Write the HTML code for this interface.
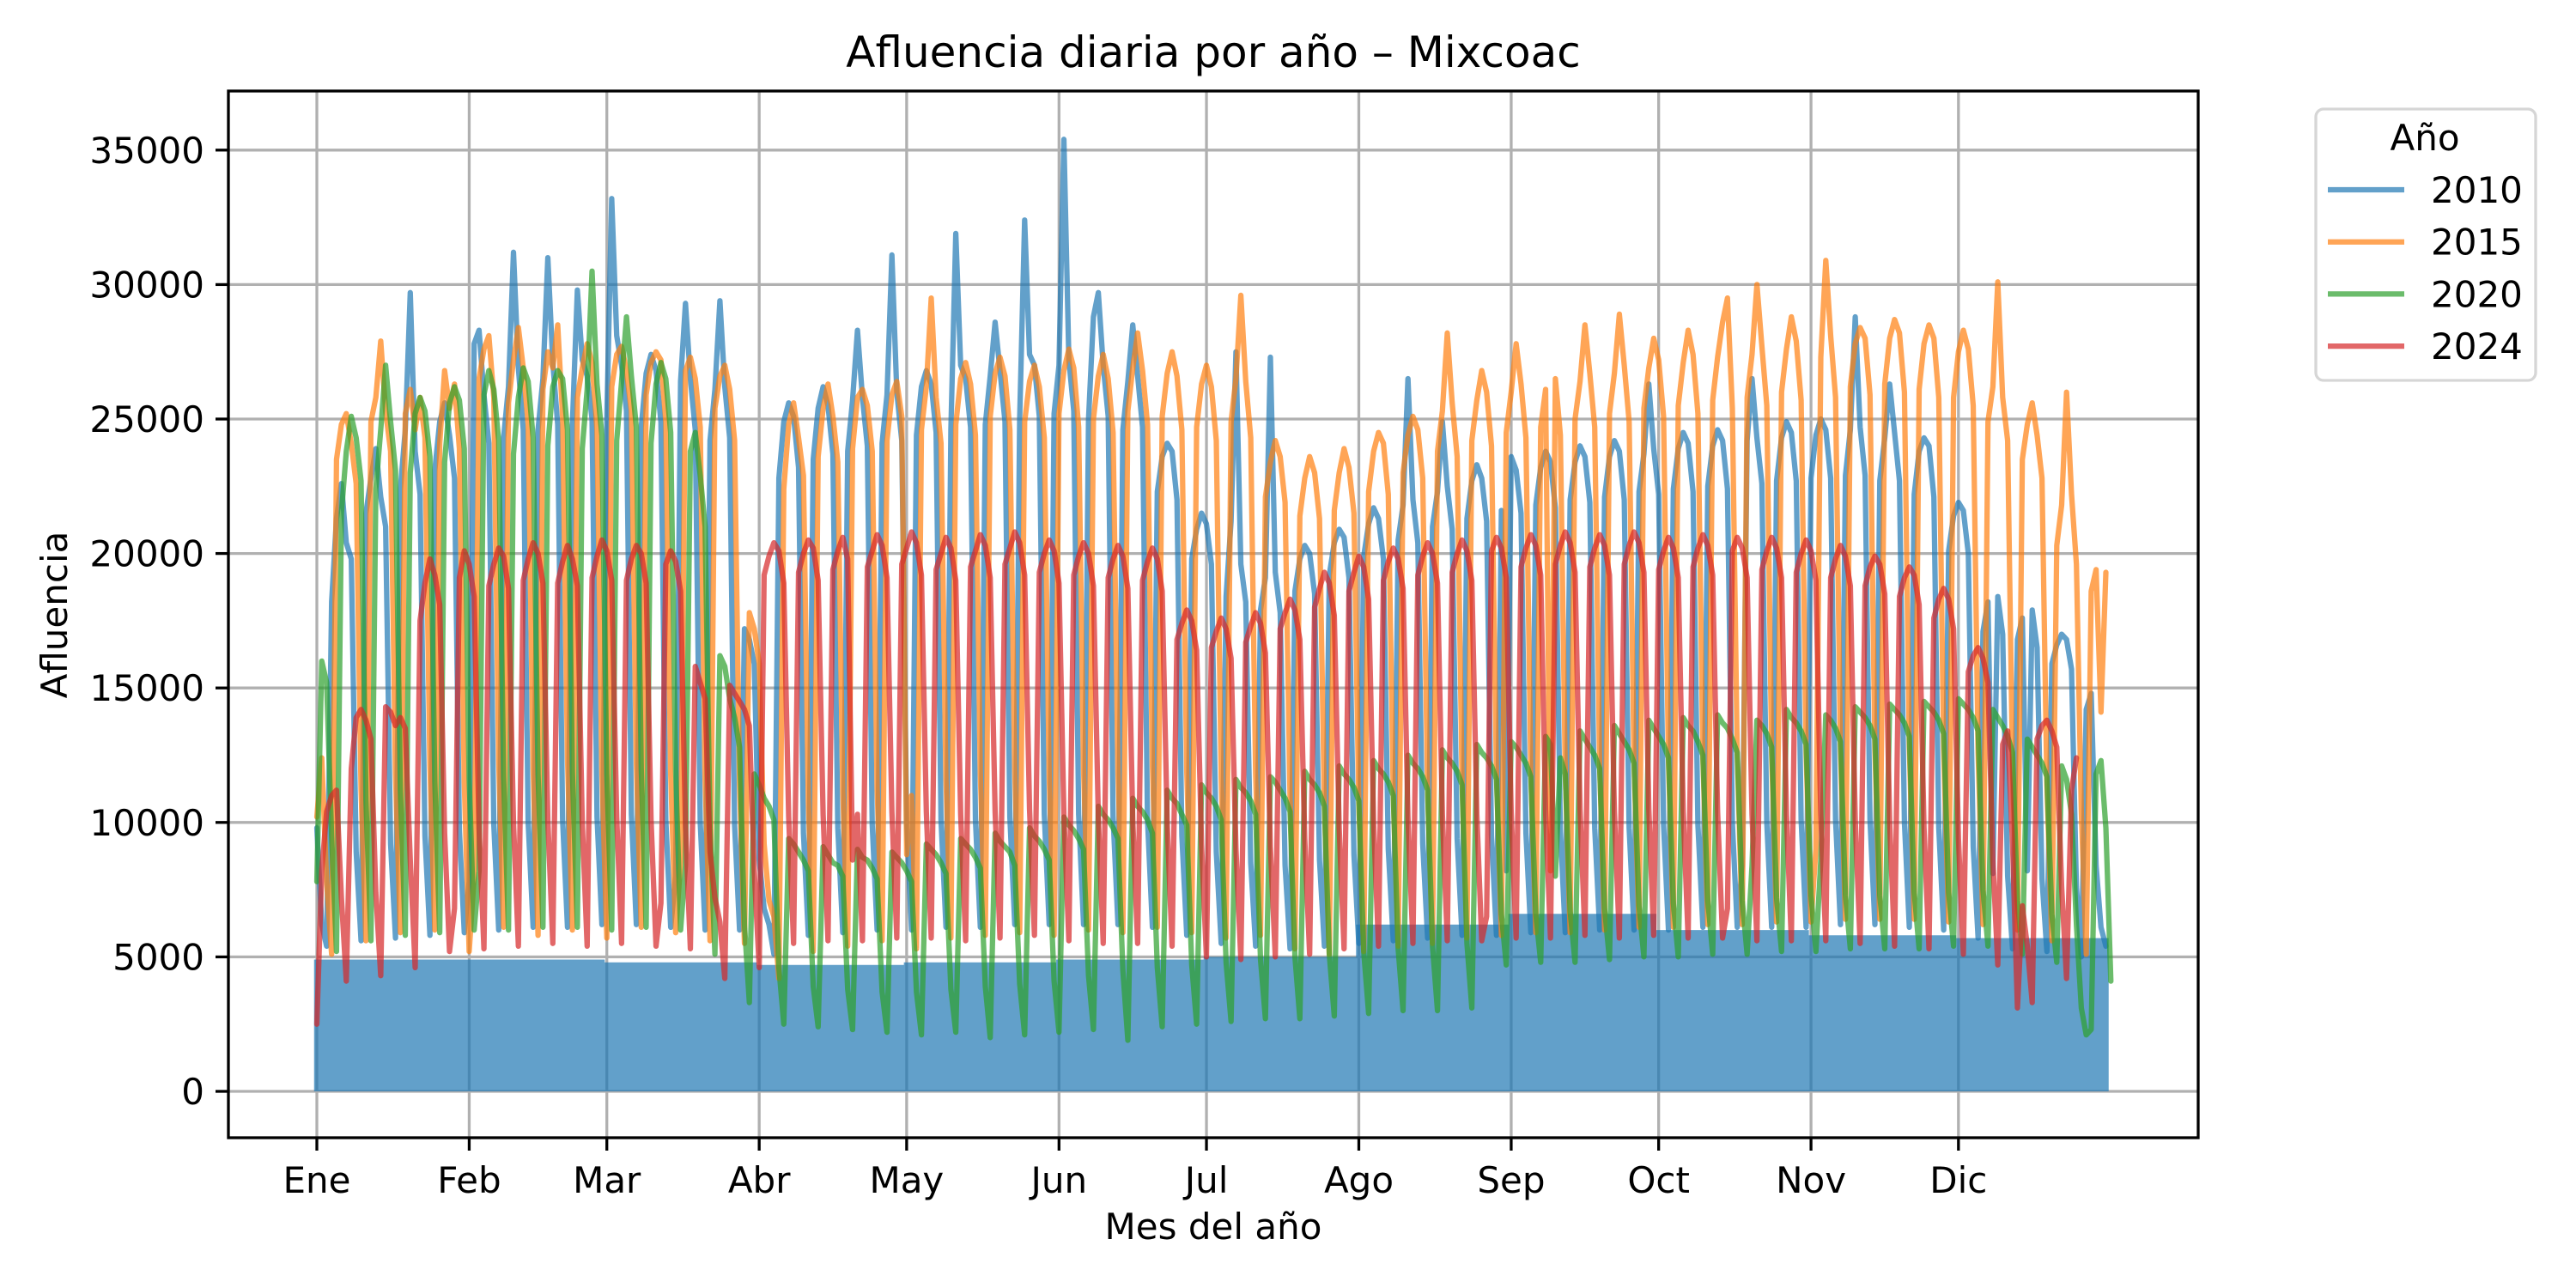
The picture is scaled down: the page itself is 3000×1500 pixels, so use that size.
<!DOCTYPE html>
<html><head><meta charset="utf-8"><style>
html,body{margin:0;padding:0;background:#fff;}
svg{display:block;font-family:"DejaVu Sans","Liberation Sans",sans-serif;}
</style></head><body>
<svg id="chart" width="3000" height="1500" viewBox="0 0 3000 1500" xmlns="http://www.w3.org/2000/svg">
<defs><clipPath id="clip"><rect x="266" y="106" width="2294" height="1219"/></clipPath></defs>
<rect width="3000" height="1500" fill="#fff"/>
<g id="grid"></g>
<g id="series" clip-path="url(#clip)"></g>
<rect x="266" y="106" width="2294" height="1219" fill="none" stroke="#000" stroke-width="3.3"/>
<g id="axes"></g>
<text x="1413" y="78" font-size="50" text-anchor="middle">Afluencia diaria por año – Mixcoac</text>
<text x="1413" y="1443" font-size="42" text-anchor="middle">Mes del año</text>
<text x="0" y="0" font-size="42" text-anchor="middle" transform="translate(78,716) rotate(-90)">Afluencia</text>
<g id="legend">
<rect x="2697" y="127" width="256" height="316" rx="9" fill="#fff" fill-opacity="0.8" stroke="#d6d6d6" stroke-width="3.3"/>
<text x="2824" y="175" font-size="42" text-anchor="middle">Año</text>
</g>
</svg>
<script>
const months = ["Ene","Feb","Mar","Abr","May","Jun","Jul","Ago","Sep","Oct","Nov","Dic"];
const monthStartDays = [1,32,60,91,121,152,182,213,244,274,305,335];
const yTicks = [0,5000,10000,15000,20000,25000,30000,35000];
const years = ["2010","2015","2020","2024"];
const colors = ["#1f77b4","#ff7f0e","#2ca02c","#d62728"];
const base2010ByMonth = [4900,4900,4800,4700,4800,4900,5000,6200,6600,6000,5800,5700];
const v2010 = [9800,6200,5400,
18200,21300,22600,20400,19800,8900,5600,
21500,22800,23900,22100,21000,9200,5700,
22400,24600,29700,23800,22200,9500,5800,
23100,24900,25600,24400,22800,9700,5900,
7800,27800,28300,25900,24100,9900,6000,
24300,26200,31200,26900,24600,10000,6100,
24600,26500,31000,27100,24800,10100,6100,
24800,29800,27200,26600,25000,10200,6200,
25000,33200,28100,27000,25300,10300,6200,
24700,26700,27400,26800,24900,10100,6100,
8000,26400,29300,26500,24600,10000,6000,
24200,26100,29400,26200,24300,9900,6000,
17200,16800,15900,8600,6800,6200,5100,
22800,24900,25600,25100,23200,9600,5800,
23500,25400,26200,25500,23700,9800,5900,
23800,25700,28300,25800,24000,9900,6000,
24100,25900,31100,26000,24200,10000,6000,
24400,26200,26800,26300,24500,10100,6100,
24600,31900,27000,26500,24700,10100,6100,
24800,26600,28600,26800,24900,10200,6200,
25000,32400,27400,27000,25100,10300,6200,
25200,27000,35400,27200,25300,10300,6200,
25000,28800,29700,27000,25100,10200,6200,
24600,26400,28500,26600,24700,10100,6100,
22300,23600,24100,23800,22000,9500,5800,
19800,20900,21500,21100,19600,8900,5500,
18400,21200,27500,19600,18200,8500,5400,
17900,19100,27300,19300,17800,8400,5300,
18600,19800,20300,20000,18500,8600,5400,
19200,20400,20900,20600,19100,8800,5500,
19900,21100,21700,21300,19800,9000,5600,
20500,21800,26500,22000,20400,9200,5700,
21000,22300,24900,22500,20900,9400,5800,
21300,22700,23300,22800,21200,9500,5800,
21600,8200,23600,23100,21500,9600,5900,
21800,23200,23800,23400,21700,9700,5900,
22000,23400,24000,23600,21900,9800,6000,
22100,23600,24200,23800,22000,9800,6000,
22300,23700,26300,23900,22200,9900,6000,
22400,23900,24500,24100,22300,9900,6100,
22500,24000,24600,24200,22400,10000,6100,
8400,24200,26500,24300,22600,10000,6100,
22700,24300,24900,24500,22700,10100,6100,
22800,24400,25000,24600,22800,10100,6200,
22900,24600,28800,24700,22900,10100,6200,
22700,24300,26300,24500,22700,10000,6100,
22200,23800,24300,24000,22100,9800,6000,
20100,21400,21900,21600,20000,9100,5700,
17100,18200,8100,18400,17000,8000,5300,
16800,17600,8200,17900,16500,7900,5200,
15900,16600,17000,16800,15700,7600,5000,
14200,14800,8400,6100,5400];
const v2015 = [10200,12400,7800,5100,
23500,24800,25200,24100,22600,11200,5600,
24900,25800,27900,25300,23800,11800,5900,
25200,26100,24600,25800,24300,12100,6000,
24100,26800,25400,26300,23900,11500,5200,
8000,26500,27600,28100,25800,12300,6100,
25600,27200,28400,26900,24800,12000,5800,
26100,27500,26900,28500,25100,12400,6000,
25800,26900,27800,27100,24600,11900,5700,
26200,27400,27700,26800,25300,12200,6100,
25900,27100,27500,27200,24900,11800,5900,
8500,26800,27300,26500,24700,11600,5600,
25400,26600,27000,26100,24200,11400,5500,
17800,17200,15900,9200,7100,6500,4200,
22400,24800,25600,24300,22900,10800,5200,
23600,25400,26300,25100,23400,11200,5400,
23900,25800,26100,25500,23800,11300,5600,
24200,25900,26400,25100,8800,11000,5300,
24600,26200,29500,25800,24100,11600,5700,
24800,26500,27100,26300,24400,11800,5800,
25100,26700,27300,26600,24600,11900,5900,
24900,26400,27000,26200,24300,11700,5800,
25200,26800,27600,26900,24700,12000,6000,
25000,26600,27400,26500,24500,11900,5900,
25300,26900,28200,26800,24800,12100,6100,
25100,26700,27500,26600,24600,11900,5900,
24700,26300,27000,26200,24200,11700,5700,
24900,26500,29600,26400,24300,11800,5800,
22100,23400,24200,23600,21900,10900,5300,
21400,22800,23600,23000,21300,10600,5100,
21600,23000,23900,23200,21500,10700,5200,
22300,23800,24500,24100,22200,11000,5400,
23000,24400,25100,24600,22800,11200,5500,
23800,25300,28200,25600,23600,11600,5700,
24200,25700,26800,26000,24000,11800,5800,
24500,26000,27800,26300,24300,11900,5900,
24700,26100,8200,26500,24400,11900,5900,
25000,26400,28500,26700,24700,12100,6000,
25200,26700,28900,27000,24900,12200,6100,
25400,26900,28000,27200,25100,12300,6100,
25500,27100,28300,27400,25200,12400,6200,
25700,27300,28600,29500,25400,12500,6200,
25800,27400,30000,27700,25500,12500,6300,
26000,27600,28800,27900,25700,12600,6300,
9000,27300,30900,28100,25800,12700,6400,
26200,27800,28400,28000,25900,12700,6400,
26300,28000,28700,28200,26000,12800,6400,
26100,27800,28500,28000,25800,12700,6300,
25800,27500,28300,27600,25500,12600,6200,
24900,26200,30100,25800,24200,12000,6000,
23500,24800,25600,24400,22800,11400,5600,
20300,21800,26000,22200,19600,10400,5100,
18600,19400,14100,19300];
const v2020 = [7800,16000,15200,9500,5200,
21500,23800,25100,24300,22700,10800,5600,
22400,24600,27000,24900,23100,11200,5800,
23000,25200,25800,25300,23600,11500,5900,
23400,25600,26200,25700,23900,11600,6000,
8200,25900,26800,26100,24200,11700,6000,
23700,25800,26900,26400,24300,11800,6100,
24000,26200,26800,26500,24600,11900,6100,
23900,26100,30500,26300,24400,11800,6000,
24200,26400,28800,26600,24700,12000,6100,
24100,26300,27100,26500,24500,11900,6000,
8400,23800,24500,22900,21000,9800,5100,
16200,15800,14600,13900,12800,6200,3300,
11800,11400,10900,10600,10100,4600,2500,
9400,9200,8900,8600,8200,3900,2400,
9100,8800,8500,8400,8000,3800,2300,
9000,8700,8600,8300,7900,3700,2200,
8900,8700,8500,8200,7800,3700,2100,
9200,9000,8800,8500,8100,3800,2200,
9400,9200,9000,8700,8300,3900,2000,
9600,9300,9100,8900,8400,4000,2100,
9800,9500,9300,9000,8600,4100,2200,
10200,9900,9700,9400,9000,4300,2300,
10600,10300,10100,9800,9400,4500,1900,
10900,10600,10400,10100,9600,4600,2400,
11200,10900,10700,10300,9900,4700,2500,
11400,11100,10900,10600,10100,4800,2600,
11600,11300,11100,10800,10300,4900,2700,
11700,11500,11200,10900,10400,5000,2700,
11900,11600,11400,11100,10600,5100,2800,
12100,11800,11600,11300,10800,5200,2900,
12300,12000,11800,11500,11000,5300,3000,
12500,12200,12000,11700,11200,5400,3000,
12700,12400,12200,11900,11400,5500,3100,
12900,12600,12400,12100,11600,6600,4700,
13000,12800,12500,12200,11700,6600,4800,
13200,12900,8000,12400,11800,6700,4800,
13400,13100,12800,12500,12000,6800,4900,
13600,13300,13000,12700,12200,6900,5000,
13800,13500,13200,12900,12400,7000,5000,
13900,13600,13400,13000,12500,7100,5100,
14000,13700,13500,13100,12600,7100,5100,
8400,13800,13600,13300,12800,7200,5200,
14200,13900,13700,13400,12900,7300,5200,
8600,14000,13800,13500,13000,7300,5300,
14300,14100,13900,13600,13100,7300,5300,
14400,14200,14000,13700,13200,7400,5300,
14500,14300,14100,13800,13300,7400,5400,
14600,14400,14200,13900,13400,7500,5400,
14200,13900,13600,13200,12600,7100,5100,
13100,12800,12500,12200,11700,6600,4800,
12100,11600,10300,6200,3100,2100,2300,
11800,12300,9800,4100];
const v2024 = [2500,8200,10400,11000,11200,7200,4100,
12000,13900,14200,13800,13100,7400,4300,
14300,14100,13600,13900,13500,8600,4600,
17500,18900,19800,19200,18100,9600,5200,
6800,19100,20100,19600,18400,9800,5300,
18800,19600,20200,19900,18700,10000,5400,
19000,19800,20400,20000,18900,10100,5500,
18900,19700,20300,19800,18800,10000,5400,
19100,19900,20500,20100,19000,10200,5500,
19000,19800,20300,20000,18900,10100,5400,
7000,19600,20100,19700,18600,9900,5300,
15800,15200,14600,8900,7200,6300,4200,
15100,14800,14500,14200,13600,8200,4600,
19200,19900,20400,20100,18900,10200,5500,
19300,20000,20500,20200,19000,10300,5600,
19400,20100,20600,19800,8600,10300,5600,
19500,20100,20700,20300,19100,10400,5700,
19600,20200,20800,20400,19200,10400,5700,
19400,20000,20600,20200,19000,10300,5600,
19500,20100,20700,20300,19100,10400,5700,
19600,20200,20800,20400,19200,10500,5800,
19300,20000,20500,20100,18900,10300,5600,
19200,19900,20400,20000,18800,10200,5500,
19100,19800,20300,19900,18700,10100,5500,
19000,19700,20200,19800,18600,10000,5400,
16800,17400,17900,17500,16400,9200,5000,
16500,17100,17600,17200,16100,9000,4900,
16700,17300,17800,17400,16300,9100,5000,
17200,17800,18300,17900,16800,9400,5100,
18000,18700,19300,18900,17700,9800,5300,
18600,19300,19900,19500,18300,10000,5400,
19000,19700,20200,19800,18700,10200,5500,
19200,19900,20400,20000,18900,10300,5600,
19300,20000,20500,20100,19000,10300,5600,
6500,20100,20600,20200,19100,10400,5700,
19500,20200,20700,20300,19200,10400,5700,
19600,20300,20800,20400,19300,10500,5800,
19500,20200,20700,20300,19200,10400,5700,
19600,20300,20800,20400,19300,10500,5800,
19400,20100,20600,20200,19100,10400,5700,
19500,20200,20700,20300,19200,10400,5700,
6800,20100,20600,20200,19100,10300,5600,
19400,20100,20600,20200,19100,10300,5600,
19300,20000,20500,20100,19000,10300,5600,
19100,19800,20300,19900,18800,10100,5500,
18800,19500,19900,19600,18500,10000,5400,
18400,19100,19500,19200,18100,9800,5300,
17600,18300,18700,18300,17200,9400,5100,
15600,16200,16500,16100,15200,8600,4700,
12900,13400,9200,3100,6900,5400,3300,
13100,13600,13800,13400,12800,7600,4200,
11200,12400];

const NS = "http://www.w3.org/2000/svg";
const X0 = 369, DAYW = 5.724, Y0 = 1271, YPER = 156.6/5000;
function xs(d){ return X0 + (d-1)*DAYW; }
function ys(v){ return Y0 - v*YPER; }
function mk(tag, attrs, parent){ const e=document.createElementNS(NS,tag); for(const k in attrs) e.setAttribute(k,attrs[k]); parent.appendChild(e); return e; }
function monthOf(d){ let m=0; for(let i=0;i<monthStartDays.length;i++) if(d>=monthStartDays[i]) m=i; return m; }

const grid=document.getElementById('grid'), axes=document.getElementById('axes'), series=document.getElementById('series');
monthStartDays.forEach((d,i)=>{
  const x=xs(d);
  const g=mk('line',{x1:x,x2:x,y1:106,y2:1325,stroke:'#b0b0b0','stroke-width':3.3},grid);
  
  
  const t=mk('line',{x1:x,x2:x,y1:1325,y2:1340,stroke:'#000','stroke-width':3.3},axes);
  
  
  const l=mk('text',{x:x,y:1389,'font-size':42,'text-anchor':'middle'},axes);
  l.textContent=months[i];
  
  
});
yTicks.forEach(v=>{
  const y=ys(v);
  const g=mk('line',{x1:266,x2:2560,y1:y,y2:y,stroke:'#b0b0b0','stroke-width':3.3},grid);
  
  
  const t=mk('line',{x1:251,x2:266,y1:y,y2:y,stroke:'#000','stroke-width':3.3},axes);
  
  
  const l=mk('text',{x:238,y:y+15,'font-size':42,'text-anchor':'end'},axes);
  l.textContent=String(v);
  
  
});

// 2010 low records (fill near baseline)
let fp='';
for(let d=1; d<=v2010.length; d++){ const x=xs(d); fp+=`M${x.toFixed(1)},${ys(0)}L${x.toFixed(1)},${ys(base2010ByMonth[monthOf(d)]).toFixed(1)}`; }
const fill=mk('path',{d:fp,stroke:colors[0],'stroke-width':6.5,'stroke-opacity':0.7,fill:'none'},series);



const all=[v2010,v2015,v2020,v2024];
all.forEach((arr,si)=>{
  let p='';
  arr.forEach((v,i)=>{ p+=(i?'L':'M')+xs(i+1).toFixed(1)+','+ys(v).toFixed(1); });
  const path=mk('path',{d:p,stroke:colors[si],'stroke-width':6.25,'stroke-opacity':0.7,fill:'none','stroke-linejoin':'round','stroke-linecap':'round'},series);
  
  
});

const legend=document.getElementById('legend');
years.forEach((yr,i)=>{
  const y=221+i*60.7;
  const ln=mk('line',{x1:2711,x2:2800,y1:y,y2:y,stroke:colors[i],'stroke-width':6.25,'stroke-opacity':0.7},legend);
  
  
  const t=mk('text',{x:2831,y:y+15,'font-size':42},legend);
  t.textContent=yr;
  
  
});
</script>
</body></html>
